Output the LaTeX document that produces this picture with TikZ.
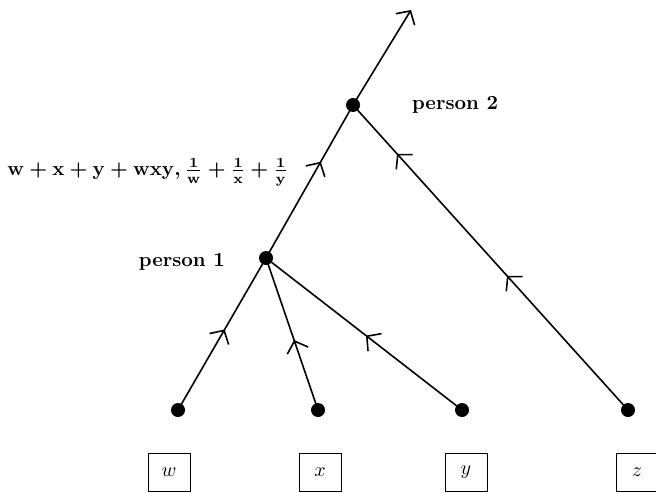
\documentclass[tikz,border=0pt]{standalone}
\usetikzlibrary{arrows.meta,decorations.markings}
\newcommand{\mylabel}{$\mathbf{w}+\mathbf{x}+\mathbf{y}+\mathbf{wxy},\frac{1}{\mathbf{w}}+\frac{1}{\mathbf{x}}+\frac{1}{\mathbf{y}}$}
\begin{document}
\begin{tikzpicture}[x=0.5pt,y=-0.5pt,
  dot/.style={circle,fill=black,inner sep=0pt,minimum size=7pt},
  leafbox/.style={draw,inner sep=0pt,minimum width=21pt,minimum height=19pt},
  conn/.style={line width=0.8pt},
  tipstyle/.tip={Straight Barb[length=5pt,width=11pt,line width=0.8pt]},
  arrowat/.style={postaction={decorate,decoration={markings,
     mark=at position #1 with {\arrow{tipstyle}}}}},
  lbl/.style={font=\bfseries}]
\useasboundingbox (0,0) rectangle (656,492);
\node[dot] (p2) at (353,105) {};
\node[dot] (p1) at (266,258) {};
\node[dot] (lw) at (178,410) {};
\node[dot] (lx) at (318,410) {};
\node[dot] (ly) at (462,410) {};
\node[dot] (lz) at (628,410) {};
\coordinate (top) at (411,10);
\node[leafbox] (bw) at (169,472) {$w$};
\node[leafbox] (bx) at (320,472) {$x$};
\node[leafbox] (by) at (466,472) {$y$};
\node[leafbox] (bz) at (637,472) {$z$};
\node[lbl,anchor=west] (t2) at (405,105) {person 2};
\node[lbl,anchor=east] (t1) at (232,262) {person 1};
\node[anchor=west,inner sep=0pt,font=\boldmath] (formula) at (7,172) {\mylabel};
\draw[conn,-{tipstyle}] (p2.center) -- (top);
\draw[conn,arrowat=0.63] (p1.center) -- (p2.center);
\draw[conn,arrowat=0.44,arrowat=0.84] (lz.center) -- (p2.center);
\draw[conn,arrowat=0.53] (lw.center) -- (p1.center);
\draw[conn,arrowat=0.46] (lx.center) -- (p1.center);
\draw[conn,arrowat=0.49] (ly.center) -- (p1.center);
\end{tikzpicture}
\end{document}
